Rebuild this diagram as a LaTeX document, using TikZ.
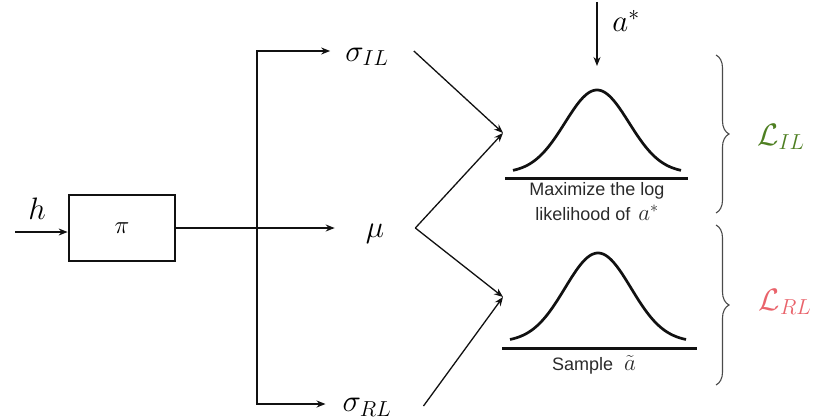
\RequirePackage{fix-cm}
\documentclass[tikz,border=0pt]{standalone}
\usepackage{fontspec}
\usepackage{amsmath,amssymb}
\usepackage{xcolor}
\usetikzlibrary{arrows.meta,positioning,calc,decorations.pathreplacing}
\newfontfamily\capfont{Liberation Sans}
\definecolor{ink}{HTML}{111111}
\definecolor{inkgray}{HTML}{4A4A4A}
\definecolor{capgray}{HTML}{2A2A2A}
\definecolor{ilgreen}{HTML}{4E7F22}
\definecolor{rlred}{HTML}{E9636B}
\newcommand{\capmath}[1]{{\fontsize{23}{23}\selectfont$#1$}}
\tikzset{
  mathlabel/.style={inner sep=0pt,font=\fontsize{31}{33}\selectfont},
  policybox/.style={draw=ink,line width=2.7pt,minimum width=106pt,minimum height=66pt,
                    inner sep=0pt,font=\fontsize{25}{27}\selectfont},
  flowarr/.style={-{Stealth[length=9pt,width=7pt]},line width=1.3pt,color=ink},
  bellcurve/.style={line width=2.7pt,color=ink},
  groundline/.style={line width=3pt,color=ink},
  capnote/.style={inner sep=0pt,align=center,text=capgray,
                  font=\capfont\fontsize{18}{25.5}\selectfont},
  lossbrace/.style={decorate,decoration={brace,amplitude=13pt},line width=1.1pt,color=inkgray}
}

\begin{document}
\begin{tikzpicture}[x=1pt,y=-1pt]
  \useasboundingbox (0,0) rectangle (813,417);
  % policy network
  \node[policybox] (pi) at (122,228) {$\pi$};
  \node[mathlabel] (h) at (37,209) {$h$};
  \coordinate (hin) at (15,232);
  \draw[flowarr] (hin) -- (hin -| pi.west);

  % policy heads
  \node[mathlabel] (sil) at (367,57) {$\sigma_{IL}$};
  \node[mathlabel] (mu) at (375,234) {$\mu$};
  \node[mathlabel] (srl) at (367,407) {$\sigma_{RL}$};
  \coordinate (split) at (257,228);
  \draw[flowarr,shorten >=31pt] (pi.east) -- (pi.east -| mu.west);
  \draw[flowarr,shorten >=15pt] (split) |- ([yshift=6pt]sil.west);
  \draw[flowarr,shorten >=17pt] (split) |- ([yshift=3pt]srl.west);

  % into the two losses
  \coordinate (ilin) at (503,133);
  \coordinate (rlin) at (503,297);
  \draw[flowarr] ([xshift=25pt,yshift=6pt]sil.east) -- (ilin);
  \draw[flowarr] ([xshift=31pt,yshift=6pt]mu.east) -- (ilin);
  \draw[flowarr] ([xshift=31pt,yshift=6pt]mu.east) -- (rlin);
  \draw[flowarr] ([xshift=32pt,yshift=1pt]srl.east) -- (rlin);

  % imitation gaussian
  \draw[bellcurve] plot[domain=-84:84,samples=90,smooth] ({597+\x},{173-83*exp(-(\x/32)^2/2)});
  \draw[groundline] (505,178) -- (688,178);
  \node[capnote,anchor=north] (ilcap) at (597,182) {Maximize the log\\likelihood of \,\capmath{a^*}};
  \node[mathlabel] (astar) at (626,21) {$a^*$};
  \coordinate (atop) at (597,2);
  \coordinate (ilpeak) at (597,66);
  \draw[flowarr] (atop) -- (ilpeak);

  % rl gaussian
  \draw[bellcurve] plot[domain=-88:88,samples=90,smooth] ({598+\x},{342-89*exp(-(\x/33)^2/2)});
  \draw[groundline] (502,348) -- (697,348);
  \node[capnote] (rlcap) at (594,365) {Sample\hspace{11pt}\capmath{\tilde{a}}};

  % losses
  \draw[lossbrace] (716,55) -- (716,213);
  \draw[lossbrace] (716,225) -- (716,385);
  \node[mathlabel,text=ilgreen] (lil) at (781,137) {$\mathcal{L}_{IL}$};
  \node[mathlabel,text=rlred] (lrl) at (785,302) {$\mathcal{L}_{RL}$};
\end{tikzpicture}
\end{document}
